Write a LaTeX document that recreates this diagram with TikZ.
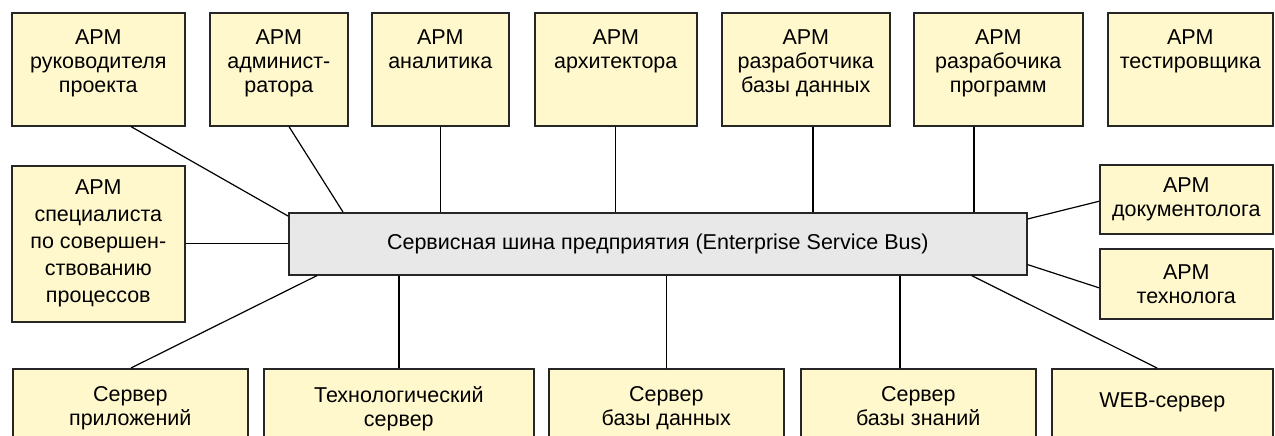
\documentclass[tikz,border=0pt]{standalone}
\usepackage{fontspec}
\setmainfont{Liberation Sans}

\definecolor{armyellow}{RGB}{255,248,204}
\definecolor{busgray}{RGB}{232,232,232}

\begin{document}
\begin{tikzpicture}[x=1pt,y=-1pt,
    box/.style={draw=black!85,line width=1.6pt,fill=armyellow,anchor=north west,
        inner sep=0pt,align=center,font=\fontsize{21.5}{24}\selectfont},
    toptext/.style={anchor=north,align=center,inner xsep=0pt,inner ysep=18pt,
        font=\fontsize{21.5}{24}\selectfont},
    link/.style={line width=1.2pt}]
    \clip (0,0) rectangle (1275,436);

    % Top row of workstations
    \node[box,minimum width=173pt,minimum height=113pt,
        label={[toptext]north:АРМ\\руководителя\\проекта}] (rukov) at (11,12) {};
    \node[box,minimum width=138pt,minimum height=113pt,
        label={[toptext]north:АРМ\\админист-\\ратора}] (admin) at (209,12) {};
    \node[box,minimum width=137pt,minimum height=113pt,
        label={[toptext]north:АРМ\\аналитика}] (analit) at (371,12) {};
    \node[box,minimum width=162pt,minimum height=113pt,
        label={[toptext]north:АРМ\\архитектора}] (arkhit) at (534,12) {};
    \node[box,minimum width=168pt,minimum height=113pt,
        label={[toptext]north:АРМ\\разработчика\\базы данных}] (razrbd) at (721,12) {};
    \node[box,minimum width=169pt,minimum height=113pt,
        label={[toptext]north:АРМ\\разрабочика\\программ}] (razrprog) at (913,12) {};
    \node[box,minimum width=165pt,minimum height=113pt,
        label={[toptext]north:АРМ\\тестировщика}] (test) at (1107,12) {};

    % Side workstations
    \node[box,minimum width=173pt,minimum height=156pt,font=\fontsize{21.5}{27}\selectfont]
        (spec) at (11,165) {АРМ\\специалиста\\по совершен-\\ствованию\\процессов};
    \node[box,minimum width=173pt,minimum height=69pt] (doc) at (1099,164) {АРМ\\документолога};
    \node[box,minimum width=173pt,minimum height=70pt] (tekh) at (1099,248) {АРМ\\технолога};

    % Bus
    \node[box,fill=busgray,minimum width=738pt,minimum height=62pt] (bus) at (288,212)
        {Сервисная шина предприятия (Enterprise Service Bus)};

    % Servers
    \node[box,minimum width=235pt,minimum height=80pt,
        label={[toptext]north:Сервер\\приложений}] (srvapp) at (12,368) {};
    \node[box,minimum width=270pt,minimum height=80pt,
        label={[toptext]north:Технологический\\сервер}] (techsrv) at (263,368) {};
    \node[box,minimum width=235pt,minimum height=80pt,
        label={[toptext]north:Сервер\\базы данных}] (srvbd) at (548,368) {};
    \node[box,minimum width=235pt,minimum height=80pt,
        label={[toptext]north:Сервер\\базы знаний}] (srvbz) at (800,368) {};
    \node[box,minimum width=221pt,minimum height=80pt,
        label={[toptext,inner ysep=25pt]north:WEB-сервер}] (web) at (1051,368) {};

    % Links to the bus
    \draw[link] ([xshift=120pt]rukov.south west) -- ([yshift=-4pt]bus.north west);
    \draw[link] ([xshift=80pt]admin.south west) -- ([xshift=55pt]bus.north west);
    \draw[link] (analit.south) -- (analit.south |- bus.north);
    \draw[link] (arkhit.south) -- (arkhit.south |- bus.north);
    \draw[link] ([xshift=92pt]razrbd.south west) coordinate (bdlink) -- (bdlink |- bus.north);
    \draw[link] ([xshift=61pt]razrprog.south west) coordinate (proglink) -- (proglink |- bus.north);
    \draw[link] (spec.east) -- (spec.east -| bus.west);
    \draw[link] ([yshift=-7pt]bus.north east) -- ([yshift=-2pt]doc.west);
    \draw[link] ([yshift=11pt]bus.south east) -- ([yshift=-4pt]tekh.west);
    \draw[link] ([xshift=29pt]bus.south west) -- ([xshift=119pt]srvapp.north west);
    \draw[link] ([xshift=111pt]bus.south west) coordinate (tslink) -- (tslink |- techsrv.north);
    \draw[link] (srvbd.north) -- (srvbd.north |- bus.south);
    \draw[link] ([xshift=100pt]srvbz.north west) coordinate (bzlink) -- (bzlink |- bus.south);
    \draw[link] ([xshift=-56pt]bus.south east) -- ([xshift=106pt]web.north west);
\end{tikzpicture}
\end{document}
